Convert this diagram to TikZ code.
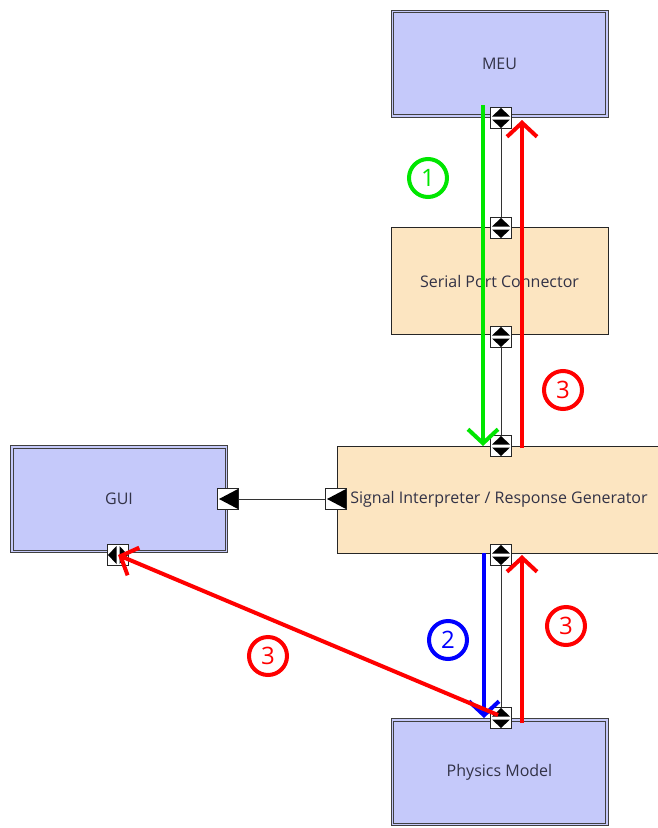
\documentclass[tikz,border=0pt]{standalone}
\usepackage{fontspec}
\setmainfont{Open Sans}
\usetikzlibrary{arrows.meta}

\definecolor{unitblue}{RGB}{197,201,250}
\definecolor{unitpeach}{RGB}{252,229,193}
\definecolor{labelink}{RGB}{50,50,70}
\definecolor{flowgreen}{RGB}{0,230,0}
\definecolor{flowred}{RGB}{255,0,0}
\definecolor{flowblue}{RGB}{0,0,255}

% glyphs inside the ports
\newcommand{\vglyph}[1]{\fill (#1) +(-9,-1.5) -- +(9,-1.5) -- +(0,-10) -- cycle;
  \fill (#1) +(-9,1.5) -- +(9,1.5) -- +(0,10) -- cycle;}
\newcommand{\hglyph}[1]{\fill (#1) +(-1.5,-9) -- +(-1.5,9) -- +(-10,0) -- cycle;
  \fill (#1) +(1.5,-9) -- +(1.5,9) -- +(10,0) -- cycle;}
\newcommand{\lglyph}[1]{\fill (#1) +(-9,0) -- +(10,-10) -- +(10,10) -- cycle;}
% second line of the hardware frames
\newcommand{\innerframe}[1]{\draw[black!75, line width=0.7pt]
  ([shift={(3,3)}]#1.north west) rectangle ([shift={(-3,-3)}]#1.south east);}

\begin{document}
\begin{tikzpicture}[x=1pt, y=-1pt]
          \tikzstyle{unit}=[rectangle, minimum width=217pt, minimum height=107pt, inner sep=0pt,
            text=labelink, font=\fontsize{16}{19}\selectfont]
          \tikzstyle{hwunit}=[unit, fill=unitblue, draw=black!75, line width=0.7pt]
          \tikzstyle{swunit}=[unit, fill=unitpeach, draw=black!85, line width=0.9pt]
          \tikzstyle{port}=[rectangle, draw=black!85, fill=white, minimum size=21pt, inner sep=0pt, line width=0.8pt]
          \tikzstyle{link}=[draw=black!80, line width=0.9pt]
          \tikzstyle{flow}=[line width=4pt, -{Straight Barb[length=14pt, width=30pt]}]
          \tikzstyle{num circle}=[circle, draw, line width=4pt, minimum size=38pt, inner sep=0pt,
            font=\fontsize{24}{26}\selectfont]
          \useasboundingbox (0,0) rectangle (657,828);
          % units
          \node[hwunit] (meu) at (499.5,63.5) {MEU};
          \node[swunit] (serial) at (499.5,281) {Serial Port Connector};
          \node[swunit, minimum width=324pt] (signal) at (499,499.5) {Signal Interpreter / Response Generator};
          \node[hwunit] (gui) at (119,499) {GUI};
          \node[hwunit] (physics) at (499.5,772) {Physics Model};
          \innerframe{meu} \innerframe{gui} \innerframe{physics}
          % ports
          \node[port] (meu-s) at (501,118) {};
          \node[port] (ser-n) at (501,228) {};
          \node[port] (ser-s) at (501,337) {};
          \node[port] (sig-n) at (501,446) {};
          \node[port] (sig-w) at (336,499) {};
          \node[port] (sig-s) at (501,555) {};
          \node[port] (gui-e) at (228,499) {};
          \node[port] (gui-s) at (118,555) {};
          \node[port] (phys-n) at (501,718) {};
          % links
          \draw[link] (meu-s) -- (ser-n);
          \draw[link] (ser-s) -- (sig-n);
          \draw[link] (sig-s) -- (phys-n);
          \draw[link] (gui-e) -- (sig-w);
          \vglyph{meu-s} \vglyph{ser-n} \vglyph{ser-s} \vglyph{sig-n}
          \vglyph{sig-s} \vglyph{phys-n} \hglyph{gui-s}
          \lglyph{gui-e} \lglyph{sig-w}
          % message flows
          \draw[flow, flowgreen] ([shift={(-18,-13)}]meu-s.center) -- ([xshift=-18]sig-n.center);
          \draw[flow, flowred] ([shift={(21,2)}]sig-n.center) -- ([shift={(21,2)}]meu-s.center);
          \draw[flow, flowblue] ([shift={(-17,-2)}]sig-s.center) -- ([xshift=-17]phys-n.center);
          \draw[flow, flowred] ([shift={(21,5)}]phys-n.center) -- ([xshift=21]sig-s.center);
          \draw[flow, flowred] ([shift={(-3,-3)}]phys-n.center) -- (gui-s.center);
          % step numbers
          \node[num circle, flowgreen] (step1) at (428,178) {1};
          \node[num circle, flowred] (step3a) at (563,390) {3};
          \node[num circle, flowblue] (step2) at (448,640) {2};
          \node[num circle, flowred] (step3b) at (566,626) {3};
          \node[num circle, flowred] (step3c) at (268,656) {3};
      \end{tikzpicture}
\end{document}
